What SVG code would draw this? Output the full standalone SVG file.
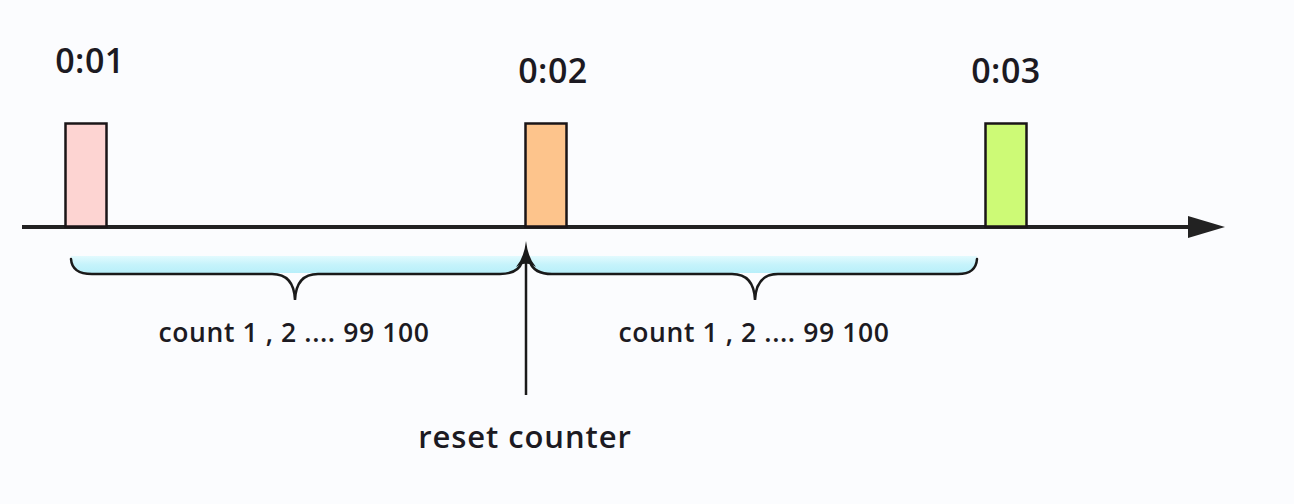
<svg xmlns="http://www.w3.org/2000/svg" width="1294" height="504" viewBox="0 0 1294 504">
<style>
.lbl{font-family:"Open Sans","Noto Sans",sans-serif;fill:#1c1a22;text-anchor:middle;font-weight:600}
.time{font-size:34px;letter-spacing:0.5px}
.cnt{font-size:26.5px;letter-spacing:0.6px}
.rst{font-size:31px;letter-spacing:0.9px}
.pulse{stroke:#1a1517;stroke-width:2.5}
.brace{fill:none;stroke:#1a1a1a;stroke-width:2.5;stroke-linecap:round}
.band{fill:url(#cy)}
</style>
<defs>
<linearGradient id="cy" x1="0" y1="0" x2="0" y2="1">
<stop offset="0" stop-color="#e2fafe"/>
<stop offset="0.5" stop-color="#c6f3fb"/>
<stop offset="1" stop-color="#b8effa"/>
</linearGradient>
</defs>
<rect width="1294" height="504" fill="#fbfcfe"/>
<g id="connectors">
<line x1="22" y1="227" x2="1192" y2="227" stroke="#222" stroke-width="4"/>
<path d="M1188,216 L1225,227 L1188,238 Z" fill="#222"/>
<path class="band" d="M71,256 L522,256 Q520,273 505,273 L90,273 Q72,273 71,256 Z"/>
<path class="band" d="M530,256 L977,256 Q976,273 960,273 L545,273 Q531,273 530,256 Z"/>
<path class="brace" d="M71,259 Q72,274 92,274 L272,274 Q294,274 295,300 Q296,274 318,274 L500,274 Q518,274 522,262"/>
<path class="brace" d="M530,262 Q534,274 552,274 L732,274 Q754,274 755,300 Q756,274 778,274 L958,274 Q976,274 977,259"/>
<line x1="526" y1="395" x2="526" y2="258" stroke="#1a1a1a" stroke-width="2.5"/>
<path d="M526,241 Q528,258 536,267 Q529,263 526,264 Q523,263 516,267 Q524,258 526,241 Z" fill="#1a1a1a"/>
</g>
<g id="pulse1"><rect class="pulse" x="65.5" y="123.5" width="41" height="103" fill="#fdd4d2"/><text class="lbl time" x="90" y="73">0:01</text></g>
<g id="pulse2"><rect class="pulse" x="525.5" y="123.5" width="41" height="103" fill="#fdc48c"/><text class="lbl time" x="553" y="83">0:02</text></g>
<g id="pulse3"><rect class="pulse" x="985.5" y="123.5" width="41" height="103" fill="#cdfa76"/><text class="lbl time" x="1006" y="83">0:03</text></g>
<g id="count1"><text class="lbl cnt" x="294" y="342">count 1 , 2 .... 99 100</text></g>
<g id="count2"><text class="lbl cnt" x="754" y="342">count 1 , 2 .... 99 100</text></g>
<g id="reset"><text class="lbl rst" x="525" y="448">reset counter</text></g>
</svg>
